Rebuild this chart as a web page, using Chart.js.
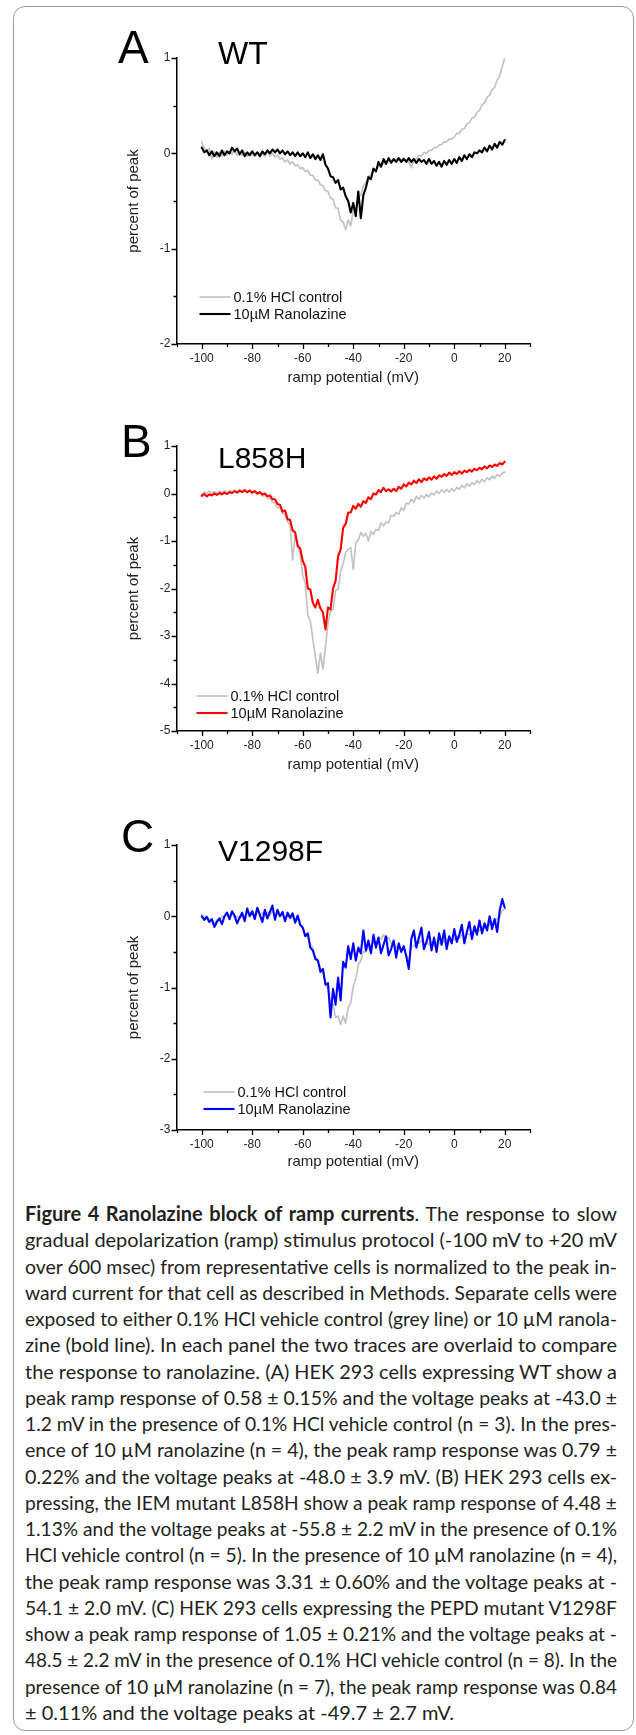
<!DOCTYPE html>
<html>
<head>
<meta charset="utf-8">
<script src="https://cdn.jsdelivr.net/npm/chart.js@4.4.0/dist/chart.umd.min.js"></script>
<style>
  html, body { margin: 0; padding: 0; background: #fff; }
  #page { position: relative; width: 636px; height: 1735px; overflow: hidden; background: #fff; }
  #frame { position: absolute; left: 13px; top: 6px; width: 619px; height: 1723px;
           border: 1px solid #9a9a9a; border-radius: 12px; }
  canvas { position: absolute; left: 0; }
  #caption { position: absolute; left: 25px; top: 1200px; width: 592px;
             font-family: Lato, "Open Sans", sans-serif; font-size: 20px; color: #231f20; }
  #caption .ln { height: 26.26px; line-height: 26.26px; white-space: nowrap; }
  #caption .ln span { display: inline-block; transform-origin: 0 50%; }
</style>
</head>
<body>
<div id="page">
  <div id="frame"></div>
  <canvas id="panelA"></canvas>
  <canvas id="panelB"></canvas>
  <canvas id="panelC"></canvas>
  <div id="caption">
    <div class="ln"><span><b>Figure 4 Ranolazine block of ramp currents</b>. The response to slow</span></div>
    <div class="ln"><span>gradual depolarization (ramp) stimulus protocol (-100 mV to +20 mV</span></div>
    <div class="ln"><span>over 600 msec) from representative cells is normalized to the peak in-</span></div>
    <div class="ln"><span>ward current for that cell as described in Methods. Separate cells were</span></div>
    <div class="ln"><span>exposed to either 0.1% HCl vehicle control (grey line) or 10 µM ranola-</span></div>
    <div class="ln"><span>zine (bold line). In each panel the two traces are overlaid to compare</span></div>
    <div class="ln"><span>the response to ranolazine. (A) HEK 293 cells expressing WT show a</span></div>
    <div class="ln"><span>peak ramp response of 0.58 ± 0.15% and the voltage peaks at -43.0 ±</span></div>
    <div class="ln"><span>1.2 mV in the presence of 0.1% HCl vehicle control (n = 3). In the pres-</span></div>
    <div class="ln"><span>ence of 10 µM ranolazine (n = 4), the peak ramp response was 0.79 ±</span></div>
    <div class="ln"><span>0.22% and the voltage peaks at -48.0 ± 3.9 mV. (B) HEK 293 cells ex-</span></div>
    <div class="ln"><span>pressing, the IEM mutant L858H show a peak ramp response of 4.48 ±</span></div>
    <div class="ln"><span>1.13% and the voltage peaks at -55.8 ± 2.2 mV in the presence of 0.1%</span></div>
    <div class="ln"><span>HCl vehicle control (n = 5). In the presence of 10 µM ranolazine (n = 4),</span></div>
    <div class="ln"><span>the peak ramp response was 3.31 ± 0.60% and the voltage peaks at -</span></div>
    <div class="ln"><span>54.1 ± 2.0 mV. (C) HEK 293 cells expressing the PEPD mutant V1298F</span></div>
    <div class="ln"><span>show a peak ramp response of 1.05 ± 0.21% and the voltage peaks at -</span></div>
    <div class="ln"><span>48.5 ± 2.2 mV in the presence of 0.1% HCl vehicle control (n = 8). In the</span></div>
    <div class="ln"><span>presence of 10 µM ranolazine (n = 7), the peak ramp response was 0.84</span></div>
    <div class="ln last"><span>± 0.11% and the voltage peaks at -49.7 ± 2.7 mV.</span></div>
  </div>
</div>
<script>
// ramp potential (mV), one sample per mV
var potential = [
  -100,-99,-98,-97,-96,-95,-94,-93,-92,-91,
  -90,-89,-88,-87,-86,-85,-84,-83,-82,-81,
  -80,-79,-78,-77,-76,-75,-74,-73,-72,-71,
  -70,-69,-68,-67,-66,-65,-64,-63,-62,-61,
  -60,-59,-58,-57,-56,-55,-54,-53,-52,-51,
  -50,-49,-48,-47,-46,-45,-44,-43,-42,-41,
  -40,-39,-38,-37,-36,-35,-34,-33,-32,-31,
  -30,-29,-28,-27,-26,-25,-24,-23,-22,-21,
  -20,-19,-18,-17,-16,-15,-14,-13,-12,-11,
  -10,-9,-8,-7,-6,-5,-4,-3,-2,-1,
  0,1,2,3,4,5,6,7,8,9,
  10,11,12,13,14,15,16,17,18,19,
  20
];

// A - WT
var wtControl = [
  0.12,0.05,0.03,0.05,-0.06,0.02,-0.04,0.01,-0.03,0.02,
  -0.02,0.02,-0.01,0.03,-0.02,0.02,-0.02,0.01,-0.03,0.01,
  -0.01,-0.03,0.01,-0.02,0.00,-0.03,0.01,-0.03,0.00,-0.04,
  -0.02,-0.06,-0.05,-0.09,-0.07,-0.11,-0.09,-0.13,-0.12,-0.16,
  -0.15,-0.19,-0.18,-0.23,-0.23,-0.28,-0.28,-0.33,-0.34,-0.39,
  -0.40,-0.47,-0.48,-0.57,-0.58,-0.70,-0.72,-0.80,-0.70,-0.76,
  -0.60,-0.58,-0.46,-0.44,-0.34,-0.31,-0.24,-0.23,-0.17,-0.18,
  -0.13,-0.14,-0.10,-0.11,-0.07,-0.09,-0.06,-0.08,-0.05,-0.07,
  -0.05,-0.08,-0.09,-0.15,-0.07,-0.06,-0.02,-0.03,0.01,0.00,
  0.03,0.03,0.06,0.06,0.09,0.09,0.12,0.12,0.15,0.15,
  0.17,0.21,0.21,0.25,0.26,0.31,0.32,0.37,0.38,0.43,
  0.45,0.51,0.53,0.59,0.61,0.67,0.69,0.77,0.81,0.91,
  1.00
];
var wtRanolazine = [
  0.06,0.01,0.03,-0.02,0.02,-0.03,0.01,-0.03,0.03,-0.02,
  0.02,0.00,0.06,0.02,0.05,-0.01,0.03,-0.03,0.01,-0.02,
  0.02,-0.02,0.01,-0.03,0.02,-0.01,0.03,0.00,0.04,0.01,
  0.04,0.00,0.03,-0.01,0.02,-0.02,0.01,-0.03,0.01,-0.03,
  0.00,-0.04,0.01,-0.05,-0.01,-0.06,-0.02,-0.07,-0.01,-0.12,
  -0.16,-0.24,-0.25,-0.31,-0.28,-0.38,-0.36,-0.45,-0.50,-0.62,
  -0.52,-0.66,-0.40,-0.68,-0.44,-0.36,-0.25,-0.27,-0.16,-0.19,
  -0.09,-0.14,-0.06,-0.11,-0.05,-0.10,-0.06,-0.09,-0.05,-0.09,
  -0.06,-0.09,-0.05,-0.09,-0.06,-0.10,-0.06,-0.09,-0.07,-0.11,
  -0.06,-0.11,-0.08,-0.13,-0.09,-0.14,-0.08,-0.12,-0.07,-0.11,
  -0.06,-0.10,-0.04,-0.08,-0.02,-0.06,-0.01,-0.04,0.01,0.00,
  0.03,0.01,0.06,0.02,0.08,0.04,0.10,0.06,0.12,0.09,
  0.14
];

// B - L858H
var l858hControl = [
  -0.02,0.03,0.01,0.05,0.00,0.04,-0.01,0.05,0.01,0.06,
  0.01,0.06,0.02,0.07,0.02,0.08,0.03,0.07,0.02,0.06,
  0.00,0.05,-0.02,0.02,-0.05,-0.04,-0.10,-0.10,-0.18,-0.20,
  -0.30,-0.30,-0.42,-0.44,-0.60,-0.66,-1.40,-0.88,-1.14,-1.26,
  -1.74,-1.88,-2.56,-2.68,-3.06,-3.44,-3.78,-3.36,-3.70,-3.24,
  -2.72,-2.48,-2.44,-2.04,-2.02,-1.64,-1.48,-1.24,-1.18,-1.14,
  -1.60,-1.04,-0.98,-0.82,-0.90,-0.84,-1.00,-0.80,-0.86,-0.76,
  -0.78,-0.62,-0.68,-0.60,-0.62,-0.46,-0.48,-0.40,-0.44,-0.30,
  -0.36,-0.20,-0.22,-0.12,-0.18,-0.06,-0.12,-0.04,-0.10,-0.02,
  -0.07,0.01,-0.03,0.05,0.00,0.08,0.02,0.09,0.03,0.10,
  0.05,0.13,0.09,0.17,0.12,0.21,0.15,0.23,0.19,0.27,
  0.22,0.30,0.25,0.33,0.29,0.37,0.32,0.40,0.36,0.43,
  0.45
];
var l858hRanolazine = [
  -0.05,-0.01,-0.06,-0.02,-0.04,0.00,-0.03,0.01,-0.02,0.02,
  -0.01,0.03,0.01,0.05,0.02,0.06,0.03,0.07,0.03,0.06,
  0.02,0.05,0.00,0.03,-0.02,0.00,-0.06,-0.04,-0.12,-0.12,
  -0.22,-0.24,-0.38,-0.36,-0.54,-0.56,-0.78,-0.82,-1.10,-1.16,
  -1.42,-1.54,-2.00,-2.02,-2.30,-2.40,-2.24,-2.42,-2.50,-2.86,
  -2.40,-2.44,-2.00,-1.84,-1.32,-1.18,-0.72,-0.64,-0.40,-0.40,
  -0.26,-0.32,-0.22,-0.28,-0.16,-0.20,-0.08,-0.12,0.00,-0.02,
  0.07,0.03,0.12,0.05,0.09,0.04,0.10,0.05,0.14,0.10,
  0.19,0.15,0.23,0.19,0.27,0.22,0.30,0.24,0.32,0.28,
  0.34,0.29,0.36,0.31,0.38,0.35,0.41,0.37,0.44,0.39,
  0.45,0.41,0.47,0.42,0.48,0.45,0.50,0.46,0.52,0.49,
  0.54,0.51,0.57,0.53,0.59,0.56,0.61,0.58,0.64,0.61,
  0.67
];

// C - V1298F
var v1298fControl = [
  0.03,-0.02,0.00,-0.06,-0.04,-0.10,-0.05,-0.06,0.00,-0.02,
  0.04,-0.01,0.05,-0.02,0.00,-0.04,0.02,-0.01,0.06,0.02,
  0.07,0.01,0.07,0.02,0.05,0.00,0.06,0.01,0.08,0.00,
  0.05,0.00,0.03,-0.03,0.02,-0.04,0.00,-0.06,-0.05,-0.13,
  -0.16,-0.26,-0.28,-0.40,-0.44,-0.57,-0.62,-0.74,-0.80,-0.94,
  -1.02,-1.20,-1.24,-1.42,-1.40,-1.52,-1.40,-1.50,-1.28,-1.22,
  -0.98,-0.88,-0.68,-0.62,-0.50,-0.50,-0.42,-0.42,-0.36,-0.38,
  -0.30,-0.32,-0.26,-0.31,-0.30,-0.38,-0.38,-0.44,-0.42,-0.48,
  -0.46,-0.54,-0.64,-0.42,-0.42,-0.36,-0.38,-0.34,-0.40,-0.36,
  -0.40,-0.36,-0.41,-0.36,-0.38,-0.34,-0.36,-0.32,-0.35,-0.31,
  -0.33,-0.28,-0.31,-0.26,-0.28,-0.24,-0.26,-0.21,-0.22,-0.18,
  -0.20,-0.15,-0.17,-0.12,-0.12,-0.07,-0.08,-0.03,-0.01,0.08,
  0.10
];
var v1298fRanolazine = [
  0.00,-0.05,-0.01,-0.08,-0.04,-0.15,-0.08,-0.03,-0.11,0.00,
  0.05,-0.04,0.07,0.01,-0.10,-0.02,0.05,-0.07,0.11,0.00,
  0.07,-0.04,0.12,0.02,-0.08,0.09,-0.03,0.06,0.15,-0.05,
  0.09,0.00,0.06,-0.07,0.05,-0.02,0.04,-0.09,0.01,-0.12,
  -0.16,-0.28,-0.24,-0.44,-0.48,-0.60,-0.62,-0.78,-0.74,-0.96,
  -0.94,-1.42,-1.02,-1.24,-0.86,-1.18,-0.64,-0.72,-0.42,-0.60,
  -0.38,-0.62,-0.44,-0.52,-0.20,-0.48,-0.34,-0.52,-0.26,-0.44,
  -0.30,-0.52,-0.40,-0.28,-0.55,-0.46,-0.34,-0.58,-0.38,-0.50,
  -0.42,-0.56,-0.74,-0.32,-0.20,-0.44,-0.30,-0.16,-0.46,-0.36,
  -0.22,-0.48,-0.30,-0.50,-0.24,-0.40,-0.20,-0.46,-0.28,-0.38,
  -0.18,-0.36,-0.26,-0.12,-0.38,-0.22,-0.08,-0.32,-0.14,-0.26,
  -0.06,-0.24,-0.10,-0.20,0.00,-0.18,-0.04,-0.22,0.08,0.24,
  0.12
];

var legendLabels = ["0.1% HCl control", "10\u00b5M Ranolazine"];
var xTickLabels = [-100, -80, -60, -40, -20, 0, 20];
var yTickLabelsA = [1, 0, -1, -2];
var yTickLabelsB = [1, 0, -1, -2, -3, -4, -5];
var yTickLabelsC = [1, 0, -1, -2, -3];

var FONT = '"Liberation Sans", Arial, Helvetica, sans-serif';
Chart.defaults.font.family = FONT;
Chart.defaults.color = "#222";

// Origin style ticks: long at labelled values, short in between, pointing out
var originTicks = {
  id: "originTicks",
  afterDraw: function(chart) {
    var ctx = chart.ctx, area = chart.chartArea;
    var xs = chart.scales.x, ys = chart.scales.y;
    ctx.save();
    ctx.strokeStyle = "#000";
    ctx.lineWidth = 1.3;
    ctx.beginPath();
    xs.ticks.forEach(function(t) {
      var px = Math.round(xs.getPixelForValue(t.value)) + 0.5;
      var len = t.value % 20 === 0 ? 5 : 3;
      ctx.moveTo(px, area.bottom);
      ctx.lineTo(px, area.bottom + len);
    });
    ys.ticks.forEach(function(t) {
      var py = Math.round(ys.getPixelForValue(t.value)) + 0.5;
      var len = Number.isInteger(t.value) ? 5 : 3;
      ctx.moveTo(area.left, py);
      ctx.lineTo(area.left - len, py);
    });
    ctx.stroke();
    ctx.restore();
  }
};

// legend drawn inside the plot, lower left
var insideLegend = {
  id: "insideLegend",
  afterDatasetsDraw: function(chart, args, opts) {
    var ctx = chart.ctx, area = chart.chartArea;
    ctx.save();
    ctx.font = "14.5px " + FONT;
    ctx.textBaseline = "middle";
    chart.data.datasets.forEach(function(ds, i) {
      var y = area.bottom + opts.rowTop + i * 17;
      var x = area.left + opts.left;
      ctx.strokeStyle = ds.borderColor;
      ctx.lineWidth = ds.borderWidth;
      ctx.beginPath();
      ctx.moveTo(x, y);
      ctx.lineTo(x + 31, y);
      ctx.stroke();
      ctx.fillStyle = "#111";
      ctx.fillText(ds.label, x + 34, y + 1);
    });
    ctx.restore();
  }
};

// panel letter and construct name
var panelTag = {
  id: "panelTag",
  afterDraw: function(chart, args, o) {
    var ctx = chart.ctx;
    ctx.save();
    ctx.fillStyle = "#000";
    ctx.textBaseline = "alphabetic";
    ctx.font = o.letterSize + "px " + FONT;
    ctx.fillText(o.letter, o.letterX, o.letterY);
    ctx.font = o.nameSize + "px " + FONT;
    ctx.fillText(o.name, o.nameX, o.nameY);
    ctx.restore();
  }
};

var panels = [
  { canvas: "panelA", letter: "A", name: "WT", control: wtControl, drug: wtRanolazine, color: "#000000",
    yMin: -2, yMax: 1, yLabels: yTickLabelsA,
    top: 0, height: 395, areaTop: 58, areaBottom: 344, titleMid: 378,
    legendTop: -47, legendLeft: 23,
    letterX: 118, letterY: 63, letterSize: 46, nameX: 218, nameY: 64, nameSize: 32 },
  { canvas: "panelB", letter: "B", name: "L858H", control: l858hControl, drug: l858hRanolazine, color: "#ff0000",
    yMin: -5, yMax: 1, yLabels: yTickLabelsB,
    top: 395, height: 390, areaTop: 446, areaBottom: 731, titleMid: 765,
    legendTop: -35, legendLeft: 20,
    letterX: 121, letterY: 457, letterSize: 46, nameX: 218, nameY: 468, nameSize: 30 },
  { canvas: "panelC", letter: "C", name: "V1298F", control: v1298fControl, drug: v1298fRanolazine, color: "#0000ff",
    yMin: -3, yMax: 1, yLabels: yTickLabelsC,
    top: 785, height: 395, areaTop: 845, areaBottom: 1130, titleMid: 1162,
    legendTop: -38, legendLeft: 27,
    letterX: 121, letterY: 852, letterSize: 46, nameX: 218, nameY: 861, nameSize: 30 }
];

function toPoints(ys) {
  return potential.map(function(v, i) { return { x: v, y: ys[i] }; });
}

function buildPanel(p) {
  var canvas = document.getElementById(p.canvas);
  canvas.width = 636;
  canvas.height = p.height;
  canvas.style.top = p.top + "px";
  var scaleBottom = p.titleMid + 9;

  new Chart(canvas, {
    type: "line",
    data: {
      datasets: [
        { label: legendLabels[0], data: toPoints(p.control), borderColor: "#c3c3c3", borderWidth: 1.7, order: 2 },
        { label: legendLabels[1], data: toPoints(p.drug), borderColor: p.color, borderWidth: 2.1, order: 1 }
      ]
    },
    options: {
      responsive: false,
      animation: false,
      devicePixelRatio: 1,
      layout: { padding: { left: 125, right: 106, top: p.areaTop - p.top, bottom: p.top + p.height - scaleBottom } },
      elements: {
        point: { radius: 0 },
        line: { tension: 0, borderJoinStyle: "round", borderCapStyle: "round" }
      },
      plugins: {
        legend: { display: false },
        tooltip: { enabled: false },
        insideLegend: { rowTop: p.legendTop, left: p.legendLeft },
        panelTag: {
          letter: p.letter, letterX: p.letterX, letterY: p.letterY - p.top, letterSize: p.letterSize,
          name: p.name, nameX: p.nameX, nameY: p.nameY - p.top, nameSize: p.nameSize
        }
      },
      scales: {
        x: {
          type: "linear", min: -110, max: 30,
          afterFit: function(s) { s.height = scaleBottom - p.areaBottom; },
          grid: { display: false, drawTicks: false },
          border: { display: true, color: "#000", width: 1.5 },
          ticks: {
            stepSize: 10, autoSkip: false, maxRotation: 0, padding: 7,
            font: { size: 12 }, color: "#222",
            callback: function(v) { return xTickLabels.indexOf(v) >= 0 ? String(v) : ""; }
          },
          title: { display: true, text: "ramp potential (mV)", font: { size: 15 }, color: "#222", padding: 0 }
        },
        y: {
          min: p.yMin, max: p.yMax,
          afterFit: function(s) { s.width = 51.5; },
          grid: { display: false, drawTicks: false },
          border: { display: true, color: "#000", width: 1.5 },
          ticks: {
            stepSize: 0.5, autoSkip: false, padding: 6,
            font: { size: 12 }, color: "#222",
            callback: function(v) { return p.yLabels.indexOf(v) >= 0 ? String(v) : ""; }
          },
          title: { display: true, text: "percent of peak", font: { size: 15 }, color: "#222", padding: 0 }
        }
      }
    },
    plugins: [originTicks, insideLegend, panelTag]
  });
}

panels.forEach(buildPanel);

// justify caption lines to the column width
function fitCaption() {
  var target = 592;
  var lines = document.querySelectorAll("#caption .ln");
  lines.forEach(function(ln) {
    var span = ln.firstElementChild;
    span.style.wordSpacing = "";
    span.style.transform = "";
    if (ln.classList.contains("last")) return;
    var w = span.getBoundingClientRect().width;
    var spaces = (span.textContent.match(/ /g) || []).length;
    if (w < target && spaces > 0) {
      span.style.wordSpacing = ((target - w) / spaces) + "px";
    } else if (w > target) {
      span.style.transform = "scaleX(" + (target / w) + ")";
    }
  });
}
fitCaption();
if (document.fonts && document.fonts.ready) document.fonts.ready.then(fitCaption);
</script>
</body>
</html>
